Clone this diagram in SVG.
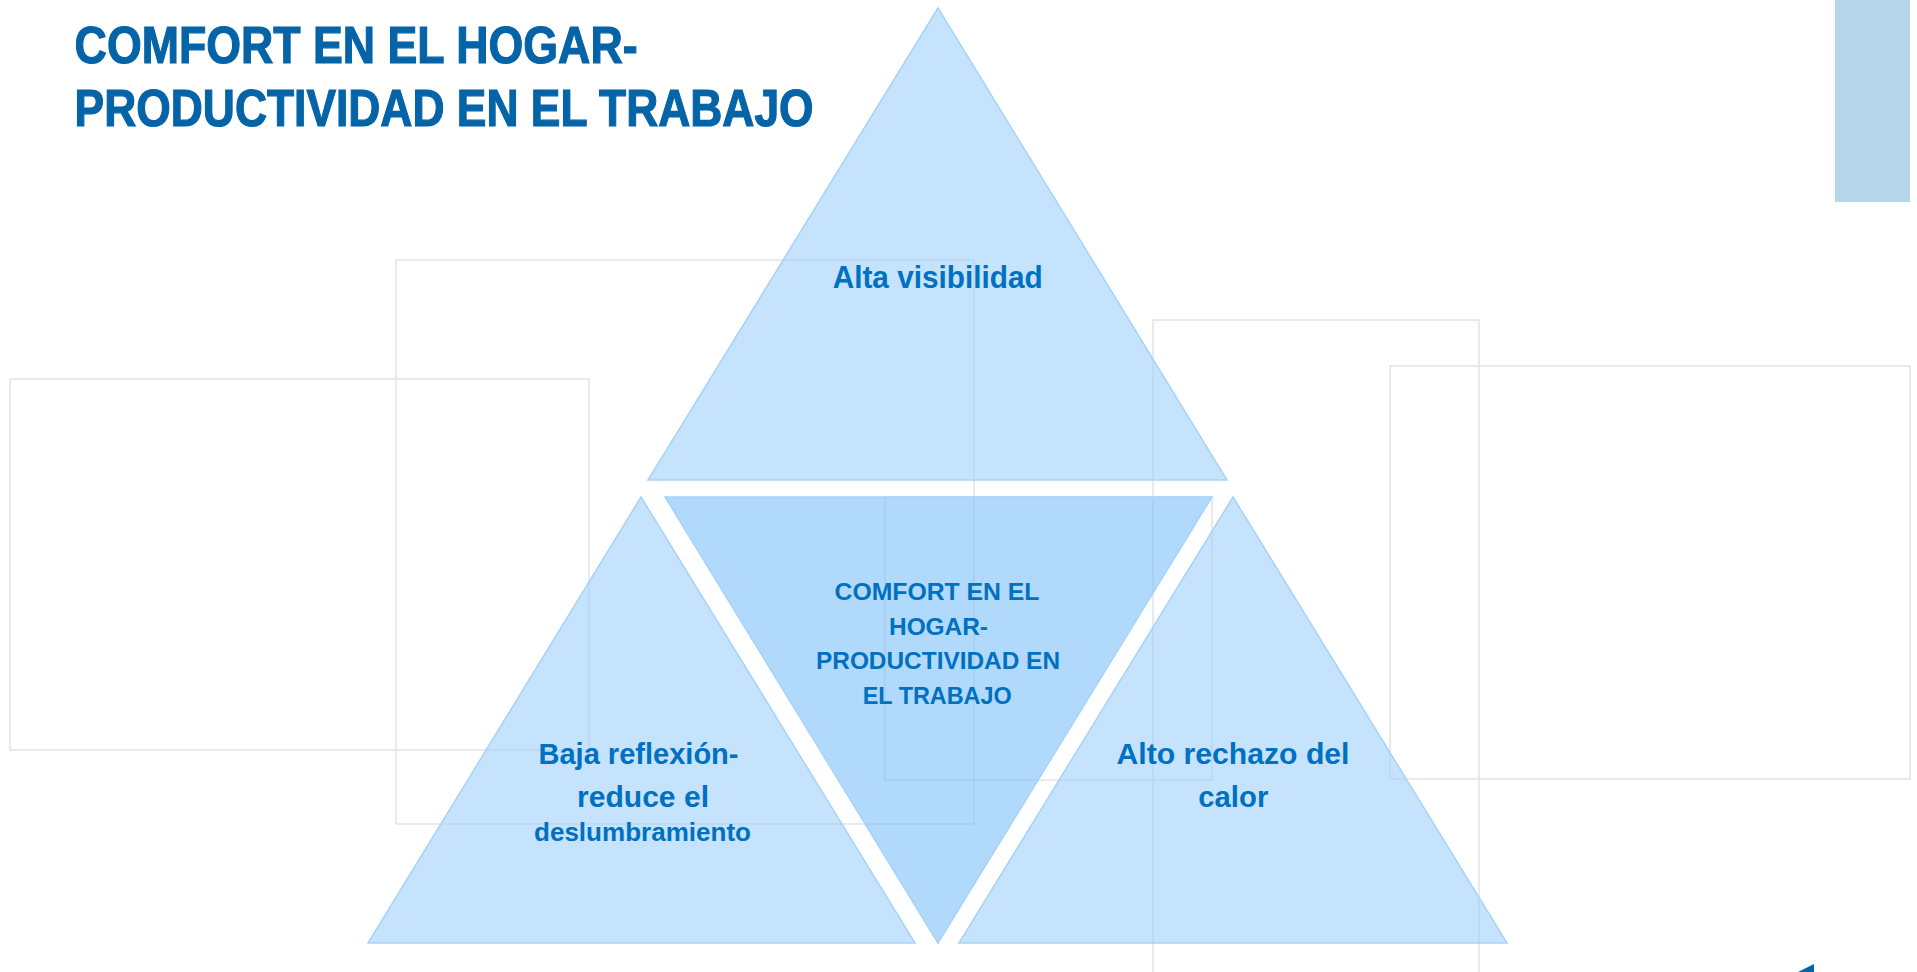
<svg xmlns="http://www.w3.org/2000/svg" width="1917" height="972" viewBox="0 0 1917 972">
<style>
.bg{fill:none;stroke:#e3e3e3;stroke-width:1.5}
.tri{fill:rgb(150,204,250);fill-opacity:0.55;stroke:#a6d3f8;stroke-width:1.5;stroke-linejoin:miter}
.tric{fill:rgb(111,186,250);fill-opacity:0.55;stroke:#a6d3f8;stroke-width:1.5}
.t{font-family:"Liberation Sans",Arial,sans-serif;font-weight:bold;fill:#0070c0;text-anchor:middle}
.title{font-family:"Liberation Sans",Arial,sans-serif;font-weight:bold;fill:#0563a7;stroke:#0563a7;stroke-width:1.2;font-size:52px}
</style>
<rect width="1917" height="972" fill="#ffffff"/>
<g id="background">
<rect class="bg" x="10" y="379" width="579" height="371"/>
<rect class="bg" x="396" y="260" width="578" height="564"/>
<rect class="bg" x="1153" y="320" width="326" height="670"/>
<rect class="bg" x="1390" y="366" width="520" height="413"/>
<rect class="bg" x="885" y="497" width="327" height="283"/>
<rect x="1835" y="0" width="75" height="202" fill="#b4d6e8"/>
<polygon points="1798,972 1814,964 1814,972" fill="#0563a7"/>
</g>
<g id="title">
<text class="title" x="74.6" y="63" textLength="563" lengthAdjust="spacingAndGlyphs">COMFORT EN EL HOGAR-</text>
<text class="title" x="74.6" y="126" textLength="739" lengthAdjust="spacingAndGlyphs">PRODUCTIVIDAD EN EL TRABAJO</text>
</g>
<g id="node-top">
<polygon class="tri" points="938,8 648,480 1227,480"/>
<text class="t" x="937.7" y="288" font-size="30.5" textLength="210" lengthAdjust="spacingAndGlyphs">Alta visibilidad</text>
</g>
<g id="node-left">
<polygon class="tri" points="641,497 368,943 915,943"/>
<text class="t" x="638.5" y="764" font-size="30" textLength="200" lengthAdjust="spacingAndGlyphs">Baja reflexión-</text>
<text class="t" x="643" y="807" font-size="30" textLength="132" lengthAdjust="spacingAndGlyphs">reduce el</text>
<text class="t" x="642.5" y="841" font-size="25" textLength="217" lengthAdjust="spacingAndGlyphs">deslumbramiento</text>
</g>
<g id="node-center">
<polygon class="tric" points="665,497 1212,497 938,943"/>
<text class="t" x="937" y="600" font-size="24" textLength="205" lengthAdjust="spacingAndGlyphs">COMFORT EN EL</text>
<text class="t" x="938.5" y="635" font-size="24" textLength="99" lengthAdjust="spacingAndGlyphs">HOGAR-</text>
<text class="t" x="938" y="669" font-size="24" textLength="244" lengthAdjust="spacingAndGlyphs">PRODUCTIVIDAD EN</text>
<text class="t" x="937.2" y="704" font-size="24" textLength="149" lengthAdjust="spacingAndGlyphs">EL TRABAJO</text>
</g>
<g id="node-right">
<polygon class="tri" points="1233,497 959,943 1507,943"/>
<text class="t" x="1233" y="764" font-size="30" textLength="233" lengthAdjust="spacingAndGlyphs">Alto rechazo del</text>
<text class="t" x="1233.3" y="807" font-size="30" textLength="70" lengthAdjust="spacingAndGlyphs">calor</text>
</g>
<g id="connectors"></g>
</svg>
